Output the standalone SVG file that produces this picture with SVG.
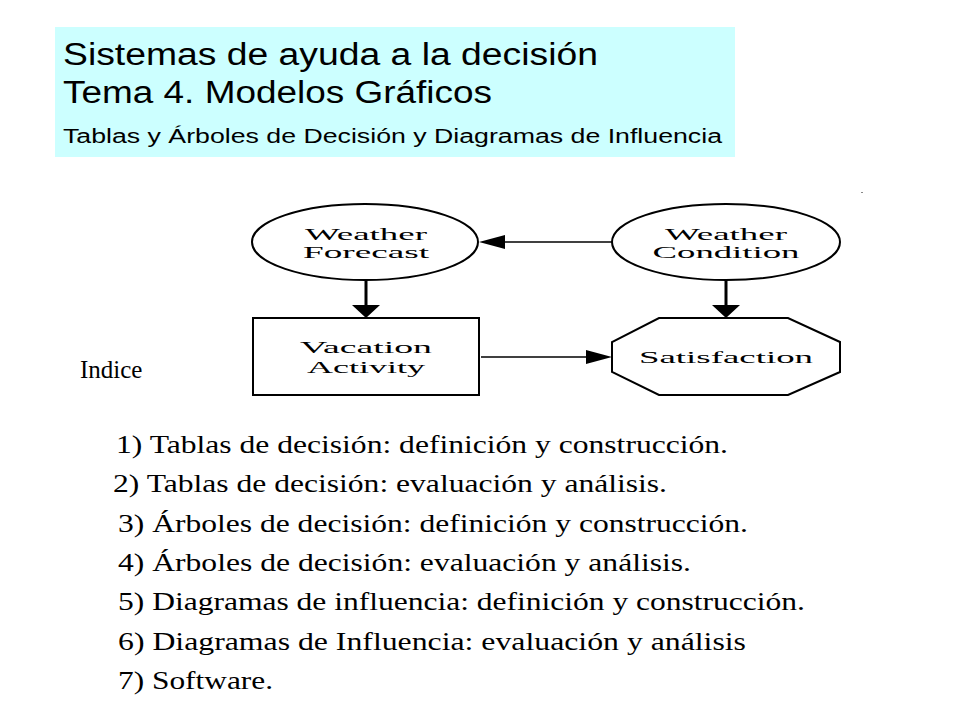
<svg xmlns="http://www.w3.org/2000/svg" width="960" height="720" viewBox="0 0 960 720">
<style>
.n{fill:#fff;stroke:#000;stroke-width:2}
.d{font-family:"Liberation Serif",serif;font-size:17px;text-anchor:middle}
.h{font-family:"Liberation Sans",Arial,sans-serif;fill:#000}
.l{font-family:"Liberation Serif",serif;font-size:25px}
.c{stroke:#000;fill:none}
</style>
<rect width="960" height="720" fill="#fff"/>
<g id="header">
<rect x="55" y="27" width="680" height="130" fill="#ccffff"/>
<text class="h" x="63" y="65" font-size="31" textLength="535" lengthAdjust="spacingAndGlyphs">Sistemas de ayuda a la decisión</text>
<text class="h" x="63" y="103" font-size="31" textLength="429" lengthAdjust="spacingAndGlyphs">Tema 4. Modelos Gráficos</text>
<text class="h" x="63" y="143" font-size="20" textLength="659" lengthAdjust="spacingAndGlyphs">Tablas y Árboles de Decisión y Diagramas de Influencia</text>
</g>
<rect x="861" y="192" width="2" height="1" fill="#888"/>
<g id="connectors">
<line class="c" x1="366" y1="280" x2="366" y2="306" stroke-width="3"/>
<path d="M352,305H380L366,318z"/>
<line class="c" x1="726" y1="280" x2="726" y2="306" stroke-width="3"/>
<path d="M712,305H740L726,318z"/>
<line class="c" x1="612" y1="242" x2="505" y2="242" stroke-width="1.5"/>
<path d="M479,242L505,235V249z"/>
<line class="c" x1="481" y1="357" x2="586" y2="357" stroke-width="1.5"/>
<path d="M612,357L586,350V364z"/>
</g>
<g id="weather-forecast">
<ellipse class="n" cx="365" cy="242" rx="113" ry="38"/>
<text class="d" x="366" y="240" textLength="122" lengthAdjust="spacingAndGlyphs">Weather</text>
<text class="d" x="366" y="258" textLength="126" lengthAdjust="spacingAndGlyphs">Forecast</text>
</g>
<g id="weather-condition">
<ellipse class="n" cx="726" cy="242" rx="114" ry="38"/>
<text class="d" x="726" y="240" textLength="122" lengthAdjust="spacingAndGlyphs">Weather</text>
<text class="d" x="726" y="258" textLength="147" lengthAdjust="spacingAndGlyphs">Condition</text>
</g>
<g id="vacation-activity">
<rect class="n" x="253" y="318" width="226" height="77"/>
<text class="d" x="366" y="353" textLength="132" lengthAdjust="spacingAndGlyphs">Vacation</text>
<text class="d" x="366" y="373" textLength="118" lengthAdjust="spacingAndGlyphs">Activity</text>
</g>
<g id="satisfaction">
<polygon class="n" points="659,318 788,318 840,342 840,372 788,395 659,395 612,372 612,342"/>
<text class="d" x="726" y="363" textLength="174" lengthAdjust="spacingAndGlyphs">Satisfaction</text>
</g>
<g id="index">
<text class="l" x="80" y="378" font-size="23">Indice</text>
<text class="l" x="116" y="453" textLength="612" lengthAdjust="spacingAndGlyphs">1) Tablas de decisión: definición y construcción.</text>
<text class="l" x="113" y="492" textLength="554" lengthAdjust="spacingAndGlyphs">2) Tablas de decisión: evaluación y análisis.</text>
<text class="l" x="118" y="532" textLength="630" lengthAdjust="spacingAndGlyphs">3) Árboles de decisión: definición y construcción.</text>
<text class="l" x="118" y="571" textLength="573" lengthAdjust="spacingAndGlyphs">4) Árboles de decisión: evaluación y análisis.</text>
<text class="l" x="118" y="610" textLength="687" lengthAdjust="spacingAndGlyphs">5) Diagramas de influencia: definición y construcción.</text>
<text class="l" x="118" y="650" textLength="628" lengthAdjust="spacingAndGlyphs">6) Diagramas de Influencia: evaluación y análisis</text>
<text class="l" x="118" y="689" textLength="155" lengthAdjust="spacingAndGlyphs">7) Software.</text>
</g>
</svg>
